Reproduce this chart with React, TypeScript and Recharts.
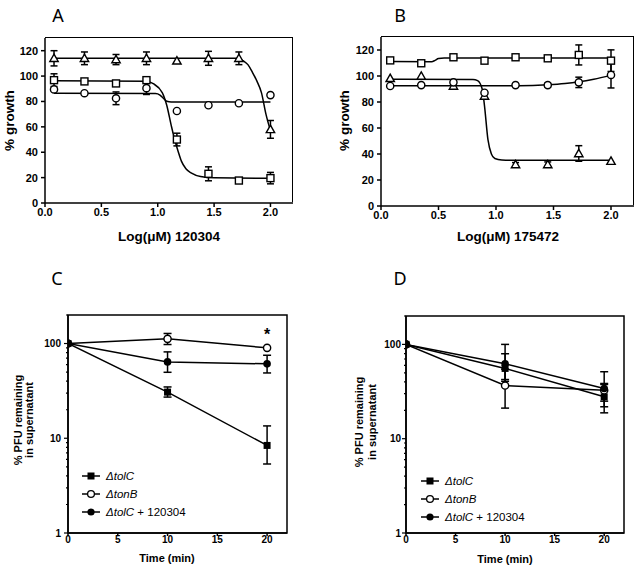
import React from 'react';
import { ComposedChart, Line, XAxis, YAxis, ErrorBar, ReferenceArea, ReferenceDot, Legend } from 'recharts';

const FONT = '"Liberation Sans", Arial, sans-serif';

// dose-response panels (A, B) share the same x positions
const doseX = [0.08, 0.35, 0.63, 0.9, 1.17, 1.45, 1.72, 2.0];

// panel A, compound 120304
const aTriangle = [114, 114, 113, 114, 112, 114, 114, 58];
const aTriangleErr = [6, 5, 4, 5, 0, 5.5, 5, 7];
const aSquare = [96.8, 95.8, 94.2, 96.8, 50, 23, 17.7, 19.6];
const aSquareErr = [5, 1.5, 1.5, 1.5, 5, 5.5, 0, 4.5];
const aCircle = [89.5, 86.5, 82.5, 90.5, 72.5, 77, 78.6, 85];
const aCircleErr = [0, 0, 5, 5, 0, 0, 0, 0];

// fitted curves, [x, y]
const aTriangleFit = [[0.08, 114], [1.7, 114], [1.76, 112], [1.8, 109], [1.84, 103], [1.88, 96], [1.92, 87], [1.96, 70], [2.0, 57]];
const aSquareFit = [[0.08, 96.3], [0.9, 96], [0.96, 94], [1.04, 87], [1.08, 77], [1.12, 61], [1.15, 50], [1.18, 41], [1.21, 33], [1.25, 27], [1.3, 23.5], [1.38, 20.8], [1.5, 19.8], [2.0, 19.5]];
const aCircleFit = [[0.08, 86.5], [0.98, 86.2], [1.02, 85], [1.05, 82.5], [1.08, 80.2], [1.12, 79.6], [2.0, 79.6]];

// panel B, compound 175472
const bSquare = [112, 109.8, 114.4, 111.8, 114.4, 113.6, 116.2, 111.8];
const bSquareErr = [0, 0, 0, 0, 0, 0, 7.7, 8.3];
const bCircle = [92.3, 93, 95.1, 87.1, 93, 93, 95.1, 100.8];
const bCircleErr = [0, 0, 0, 0, 0, 1.5, 4, 10];
const bTriangle = [98.2, 100, 92.3, 84.6, 31.9, 31.9, 40.4, 34.5];
const bTriangleErr = [0, 0, 0, 0, 1.5, 2, 6, 0];

const bSquareFit = [[0.08, 111.2], [0.44, 111], [0.47, 112], [0.5, 113.5], [0.55, 113.8], [2.0, 113.8]];
const bCircleFit = [[0.08, 92.5], [1.2, 92.5], [1.45, 93.2], [1.6, 94.2], [1.72, 95.5], [1.85, 97.5], [2.0, 100.5]];
const bTriangleFit = [[0.08, 97.5], [0.8, 97.4], [0.84, 96.5], [0.88, 90], [0.9, 77], [0.93, 51], [0.96, 40], [0.99, 36.5], [1.05, 35.4], [1.15, 35.2], [2.0, 35.2]];

// adsorption panels (C, D)
const timeX = [0, 10, 20];

const cTolC = [100, 30.7, 8.4];
const cTolCErr: any[] = [0, [3.5, 4.1], [3.05, 5.1]];
const cTonB = [100, 112, 90];
const cTonBErr: any[] = [0, [14.4, 15.7], 0];
const cTolCDrug = [100, 64, 61];
const cTolCDrugErr: any[] = [0, [14.3, 17.6], [12.1, 14.2]];

const dTolC = [100, 55.6, 27.8];
const dTolCErr: any[] = [0, [15, 24], [9, 10.7]];
const dTonB = [100, 36.6, 32.6];
const dTonBErr: any[] = [0, [15.5, 18], [10.8, 5]];
const dTolCDrug = [100, 62.4, 34];
const dTolCDrugErr: any[] = [0, [20, 37.6], [9, 17.3]];

const doseTicksX = [0, 0.5, 1, 1.5, 2];
const doseTicksY = [0, 20, 40, 60, 80, 100, 120];
const timeTicks = [0, 5, 10, 15, 20];
const logTicks = [1, 2, 3, 4, 5, 6, 7, 8, 9, 10, 20, 30, 40, 50, 60, 70, 80, 90, 100, 200];

const toPoints = (xs: number[], ys: number[], es: any[]) => xs.map((x, i) => ({ x, y: ys[i], e: es[i] }));
const toCurve = (pairs: number[][]) => pairs.map(([x, y]) => ({ x, y }));

const axisLine = { stroke: '#000', strokeWidth: 1.5 };
const tickFont = { fill: '#000', fontSize: 11, fontWeight: 'bold', fontFamily: FONT };

// marker shapes
const openSquare = (p: any) => <rect key={p.index} x={p.cx - 3.5} y={p.cy - 3.5} width={7} height={7} fill="#fff" stroke="#000" strokeWidth={1.4} />;
const openCircle = (p: any) => <circle key={p.index} cx={p.cx} cy={p.cy} r={3.6} fill="#fff" stroke="#000" strokeWidth={1.4} />;
const openTriangle = (p: any) => (
  <path key={p.index} d={`M${p.cx},${p.cy - 4.2} L${p.cx + 4.2},${p.cy + 3.2} L${p.cx - 4.2},${p.cy + 3.2} Z`} fill="#fff" stroke="#000" strokeWidth={1.4} />
);
const filledSquare = (p: any) => <rect key={p.index} x={p.cx - 3.5} y={p.cy - 3.5} width={7} height={7} fill="#000" />;
const filledCircle = (p: any) => <circle key={p.index} cx={p.cx} cy={p.cy} r={3.8} fill="#000" />;

// axis titles placed at fixed spots inside each chart's svg
const hTitle = (text: string, cx: number, base: number, size: number) => () => (
  <text x={cx} y={base} textAnchor="middle" fontSize={size} fontWeight="bold" fontFamily={FONT} fill="#000">{text}</text>
);
const vTitle = (lines: string[], xs: number[], cy: number, size: number) => () => (
  <text transform="rotate(-90)" textAnchor="middle" fontSize={size} fontWeight="bold" fontFamily={FONT} fill="#000">
    {lines.map((t, i) => <tspan key={i} x={-cy} y={xs[i]} dy="0.35em">{t}</tspan>)}
  </text>
);

const logTick = (gap: number) => (p: any) => {
  const v = p.payload.value;
  const ax = p.x + 4 + gap;
  const major = v === 1 || v === 10 || v === 100;
  return (
    <g>
      <line x1={ax} x2={ax - (major ? 4 : 2)} y1={p.y} y2={p.y} stroke="#000" strokeWidth={1.2} />
      {major && (
        <text x={ax - 4 - gap} y={p.y} dy="0.35em" textAnchor="end" fontSize={10} fontWeight="bold" fontFamily={FONT} fill="#000">{v}</text>
      )}
    </g>
  );
};

const legendItems = [
  { gene: 'tolC', extra: '', mark: 'square' },
  { gene: 'tonB', extra: '', mark: 'open' },
  { gene: 'tolC', extra: ' + 120304', mark: 'filled' },
];

const renderLegend = () => (
  <svg width={140} height={50} style={{ display: 'block' }}>
    {legendItems.map((it, i) => {
      const y = 6 + i * 18;
      return (
        <g key={i}>
          <line x1={0} x2={18} y1={y} y2={y} stroke="#000" strokeWidth={1.5} />
          {it.mark === 'square' && <rect x={5.5} y={y - 3.5} width={7} height={7} fill="#000" />}
          {it.mark === 'open' && <circle cx={9} cy={y} r={3.4} fill="#fff" stroke="#000" strokeWidth={1.3} />}
          {it.mark === 'filled' && <circle cx={9} cy={y} r={3.6} fill="#000" />}
          <text x={24} y={y} dy="0.35em" fontSize={11.5} fontFamily={FONT} fill="#000">
            <tspan fontStyle="italic">{'\u0394' + it.gene}</tspan>{it.extra}
          </text>
        </g>
      );
    })}
  </svg>
);

function DoseChart(props: any) {
  const { left, width, margin, yWidth, xTitle, yTitleX, curves, sets } = props;
  // plot box outline in CSS, sized from the same margins the chart uses
  const box = {
    position: 'absolute' as const,
    left: margin.left + yWidth,
    top: margin.top,
    width: width - margin.left - yWidth - margin.right,
    height: 250 - margin.top - margin.bottom - 40,
    borderTop: '1.5px solid #000',
    borderRight: '1.5px solid #000',
    boxSizing: 'border-box' as const,
    pointerEvents: 'none' as const,
    marginTop: -0.75,
    marginRight: -0.75,
  };
  return (
    <div style={{ position: 'absolute', left, top: 0, width, height: 250 }}>
      <ComposedChart width={width} height={250} margin={margin}>
        <XAxis type="number" dataKey="x" domain={[0, 2.2]} ticks={doseTicksX} interval={0} allowDataOverflow
          tickFormatter={(v: number) => v.toFixed(1)} height={40} tickSize={4} tickMargin={1}
          axisLine={axisLine} tickLine={axisLine} tick={tickFont}
          label={{ value: xTitle[0], content: hTitle(xTitle[0], xTitle[1], 241, 13.5) }} />
        <YAxis type="number" dataKey="y" domain={[0, 130]} ticks={doseTicksY} interval={0} allowDataOverflow
          width={yWidth} tickSize={4} tickMargin={3} axisLine={axisLine} tickLine={axisLine} tick={tickFont}
          label={{ value: '% growth', content: vTitle(['% growth'], [yTitleX], 120.5, 13.5) }} />
        <ReferenceArea x1={0.001} x2={2.199} y1={0.1} y2={129.9} ifOverflow="extendDomain" fill="none" stroke="#000" strokeWidth={0} />
        {curves.map((c: any, i: number) => (
          <Line key={'fit' + i} data={toCurve(c)} dataKey="y" type="monotone" dot={false} activeDot={false}
            stroke="#000" strokeWidth={1.5} isAnimationActive={false} />
        ))}
        {sets.map((s: any, i: number) => (
          <Line key={'pts' + i} data={toPoints(doseX, s.y, s.e)} dataKey="y" stroke="none" dot={s.shape} activeDot={false}
            isAnimationActive={false}>
            <ErrorBar dataKey="e" direction="y" width={3.5} stroke="#000" strokeWidth={1.5} />
          </Line>
        ))}
      </ComposedChart>
      <div style={{ ...box, left: box.left - 0.75 + 0.75 }} />
    </div>
  );
}

function TimeChart(props: any) {
  const { left, width, margin, yWidth, gap, xTitle, yTitleXs, yTitleY, series, legendPos, star } = props;
  return (
    <div style={{ position: 'absolute', left, top: 290 }}>
      <ComposedChart width={width} height={280} margin={margin}>
        <XAxis type="number" dataKey="x" domain={[0, 22]} ticks={timeTicks} interval={0} allowDataOverflow
          height={33} tickSize={3} tickMargin={0} axisLine={axisLine} tickLine={axisLine}
          tick={{ ...tickFont, fontSize: 10 }}
          label={{ value: 'Time (min)', content: hTitle('Time (min)', xTitle[0], xTitle[1], 11) }} />
        <YAxis type="number" dataKey="y" scale="log" domain={[1, 200]} ticks={logTicks} interval={0} allowDataOverflow
          width={yWidth} tickSize={4} tickMargin={gap} axisLine={axisLine} tickLine={false} tick={logTick(gap)}
          label={{ value: '% PFU remaining', content: vTitle(['% PFU remaining', 'in supernatant'], yTitleXs, yTitleY, 11) }} />
        <ReferenceArea x1={0} x2={22} y1={1} y2={200} ifOverflow="visible" fill="none" stroke="#000" strokeWidth={1.5} />
        {series.map((s: any, i: number) => (
          <Line key={'s' + i} data={toPoints(timeX, s.y, s.e)} dataKey="y" type="linear" dot={s.dot} activeDot={false}
            stroke="#000" strokeWidth={1.5} isAnimationActive={false}>
            <ErrorBar dataKey="e" direction="y" width={4} stroke="#000" strokeWidth={1.5} />
          </Line>
        ))}
        {star && (
          <ReferenceDot x={20} y={125} r={0} fill="none" stroke="none"
            label={{ value: '*', position: 'center', fontSize: 16, fontWeight: 'bold', fill: '#000', fontFamily: FONT }} />
        )}
        <Legend layout="vertical" align="center" verticalAlign="middle" width={140} height={50}
          wrapperStyle={{ left: legendPos[0], top: legendPos[1] }} content={renderLegend} />
      </ComposedChart>
    </div>
  );
}

export default function App() {
  const letter = { fontSize: 18, fontFamily: '"Noto Sans", "Open Sans", sans-serif', fill: '#000', textAnchor: 'middle' as const };
  return (
    <div style={{ position: 'absolute', left: 0, top: 0, width: 637, height: 570, background: '#fff', fontFamily: FONT }}>
      <DoseChart left={0} width={310} margin={{ top: 38, right: 17, bottom: 7, left: 0 }} yWidth={45}
        xTitle={['Log(\u03bcM) 120304', 169]} yTitleX={9}
        curves={[aTriangleFit, aSquareFit, aCircleFit]}
        sets={[
          { y: aTriangle, e: aTriangleErr, shape: openTriangle },
          { y: aSquare, e: aSquareErr, shape: openSquare },
          { y: aCircle, e: aCircleErr, shape: openCircle },
        ]} />
      <DoseChart left={318} width={319} margin={{ top: 37, right: 3, bottom: 4, left: 17 }} yWidth={46}
        xTitle={['Log(\u03bcM) 175472', 190]} yTitleX={26}
        curves={[bSquareFit, bCircleFit, bTriangleFit]}
        sets={[
          { y: bTriangle, e: bTriangleErr, shape: openTriangle },
          { y: bSquare, e: bSquareErr, shape: openSquare },
          { y: bCircle, e: bCircleErr, shape: openCircle },
        ]} />
      <TimeChart left={0} width={310} margin={{ top: 25, right: 23, bottom: 4, left: 0 }} yWidth={68} gap={3}
        xTitle={[167, 272]} yTitleXs={[18, 29]} yTitleY={130} legendPos={[82, 180]} star
        series={[
          { y: cTolC, e: cTolCErr, dot: filledSquare },
          { y: cTonB, e: cTonBErr, dot: openCircle },
          { y: cTolCDrug, e: cTolCDrugErr, dot: filledCircle },
        ]} />
      <TimeChart left={318} width={319} margin={{ top: 26, right: 13, bottom: 4, left: 0 }} yWidth={88} gap={1}
        xTitle={[187, 273]} yTitleXs={[41, 54]} yTitleY={132} legendPos={[103, 185]}
        series={[
          { y: dTolC, e: dTolCErr, dot: filledSquare },
          { y: dTonB, e: dTonBErr, dot: openCircle },
          { y: dTolCDrug, e: dTolCDrugErr, dot: filledCircle },
        ]} />
      <svg width={637} height={570} style={{ position: 'absolute', left: 0, top: 0, pointerEvents: 'none' }}>
        <text x={58} y={22} {...letter}>A</text>
        <text x={400} y={22} {...letter}>B</text>
        <text x={57} y={285} {...letter}>C</text>
        <text x={400} y={285} {...letter}>D</text>
      </svg>
    </div>
  );
}
